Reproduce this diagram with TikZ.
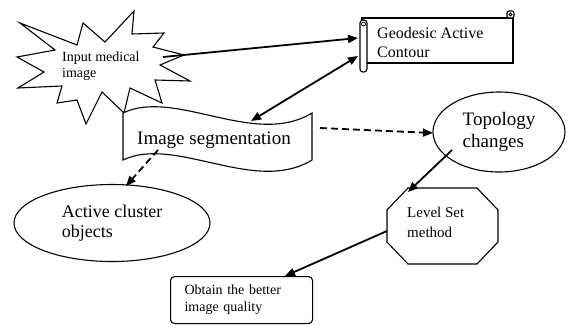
\documentclass[tikz,border=0pt]{standalone}
\usepackage{fontspec}
\setmainfont{Liberation Serif}
\usetikzlibrary{arrows.meta,shapes.geometric}
\begin{document}
\begin{tikzpicture}[x=1pt,y=-1pt,
  outline/.style={draw=black,line width=1.1pt,fill=white},
  conn/.style={line width=1.8pt,-{Triangle[length=10pt,width=8pt]}},
  dconn/.style={conn,dash pattern=on 7pt off 4pt},
  lbl/.style={inner sep=0pt,anchor=north west,align=left}
]
\useasboundingbox[fill=white] (0,0) rectangle (568,325);

% star
\draw[outline] (20,23) -- (77,45) -- (83,23) -- (105,42) -- (134,11) -- (132,34) -- (164,33)
  -- (153,47) -- (184,55) -- (160,65) -- (190,81) -- (155,80) -- (162,103) -- (130,88)
  -- (124,113) -- (102,92) -- (86,124) -- (77,100) -- (57,103) -- (62,86) -- (18,88)
  -- (44,72) -- (17,57) -- (55,50) -- cycle;
\node[lbl,font=\fontsize{14}{16}\selectfont] (inp) at (62,52) {Input medical\\image};

% scroll
\draw[outline] (362,18) rectangle (513,63);
\draw[outline,rounded corners=3pt] (360,20) rectangle (367,72);
\draw[line width=0.8pt] (363.5,24) circle (2pt);
\draw[outline,rounded corners=2pt] (507,11) rectangle (514,18);
\draw[line width=0.8pt] (510.5,14.5) circle (1.5pt);
\node[lbl,font=\fontsize{16}{19}\selectfont] (geo) at (377,27) {Geodesic Active\\Contour};

% banner
\draw[outline] (123,113) .. controls (175,88) and (255,148) .. (312,113) -- (312,160)
  .. controls (255,195) and (175,135) .. (123,160) -- cycle;
\node[inner sep=0pt,anchor=base west,font=\fontsize{19}{22}\selectfont] (seg) at (137,144) {Image segmentation};

% topology ellipse
\node[ellipse,outline,inner sep=0pt,minimum width=132pt,minimum height=80pt,align=left,
  font=\fontsize{19}{22}\selectfont] (top) at (499,132) {Topology\\changes};

% active cluster ellipse
\node[ellipse,outline,inner sep=0pt,minimum width=196pt,minimum height=77pt,align=left,
  font=\fontsize{18}{20}\selectfont] (act) at (112,223) {Active cluster\\objects};

% octagon
\draw[outline] (408,188) -- (477,188) -- (498,210) -- (498,242) -- (477,264) -- (408,264)
  -- (387,242) -- (387,210) -- cycle;
\node[lbl,font=\fontsize{15}{20}\selectfont] (lvl) at (407,207) {Level Set\\method};

% obtain box
\node[draw,line width=1.1pt,fill=white,rounded corners=4pt,anchor=north west,
  minimum height=47pt,inner xsep=14pt,inner ysep=0pt,text width=114pt,align=left,
  font=\fontsize{14}{17}\selectfont] (obt) at (170,276) {Obtain the better\\image quality};

% connector ends
\coordinate (s1) at (163,57); \coordinate (g1) at (358,38);
\coordinate (g2) at (358,56); \coordinate (b1) at (251,121);
\coordinate (b2) at (320,128); \coordinate (t1) at (433,133);
\coordinate (b3) at (158,150); \coordinate (a1) at (126,186);
\coordinate (t2) at (452,150); \coordinate (l1) at (408,192);
\coordinate (l2) at (387,231); \coordinate (o1) at (285,276);

\draw[conn] (s1) -- (g1);
\draw[conn,{Triangle[length=10pt,width=8pt]}-{Triangle[length=10pt,width=8pt]}] (g2) -- (b1);
\draw[dconn] (b2) -- (t1);
\draw[dconn] (b3) -- (a1);
\draw[conn] (t2) -- (l1);
\draw[conn] (l2) -- (o1);
\end{tikzpicture}
\end{document}
